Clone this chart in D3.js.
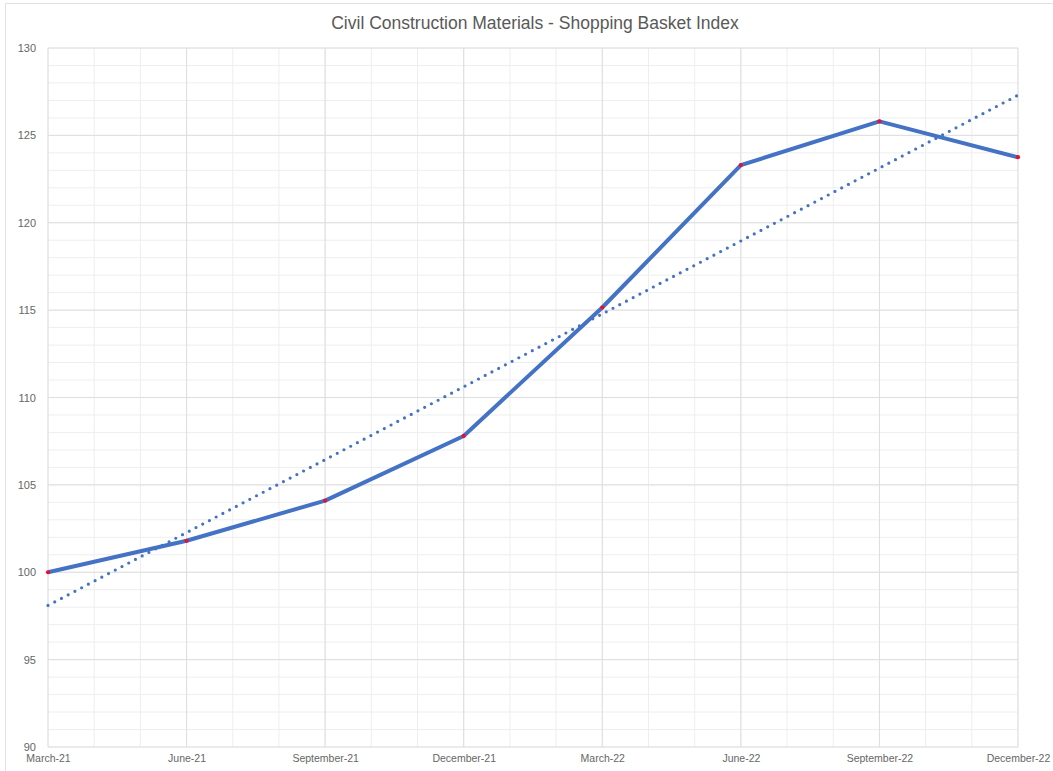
<!DOCTYPE html>
<html>
<head>
<meta charset="utf-8">
<script src="https://cdn.jsdelivr.net/npm/d3@7"></script>
<style>
  body { margin: 0; background: #fff; }
  text { font-family: "Liberation Sans", Arial, sans-serif; }
</style>
</head>
<body>
<div class="graph"></div>
<script>
const w = 1053;
const h = 771;
const margin = {top: 48, right: 35, bottom: 24, left: 48};

// data
const quarters = ["March-21", "June-21", "September-21", "December-21",
                  "March-22", "June-22", "September-22", "December-22"];
const index = [100, 101.8, 104.1, 107.8, 115.15, 123.3, 125.8, 123.75];
const trend = [98.1, 127.3];   // linear trend at first and last quarter
const yTicks = [90, 95, 100, 105, 110, 115, 120, 125, 130];

const x = d3.scaleLinear()
            .domain([0, quarters.length - 1])
            .range([margin.left, w - margin.right]);
const y = d3.scaleLinear()
            .domain([90, 130])
            .range([h - margin.bottom, margin.top]);

const canvas = d3.select(".graph")
                 .append("svg")
                 .attr("width", w)
                 .attr("height", h);

canvas.append("rect")
      .attr("x", 5.5).attr("y", 3.5)
      .attr("width", w).attr("height", h)
      .attr("fill", "none")
      .attr("stroke", "#e2e2e2");

// gridlines: monthly / one-unit minor, quarters / 5 major
const grid = canvas.append("g").attr("class", "grid");
const minorX = d3.range(0, quarters.length - 1 + 1e-9, 1 / 3);
const minorY = d3.range(90, 130.01, 1);

grid.selectAll(".mx").data(minorX).enter().append("line")
    .attr("x1", d => x(d)).attr("x2", d => x(d))
    .attr("y1", y(90)).attr("y2", y(130))
    .attr("stroke", "#eeeeee");
grid.selectAll(".my").data(minorY).enter().append("line")
    .attr("x1", x(0)).attr("x2", x(quarters.length - 1))
    .attr("y1", d => y(d)).attr("y2", d => y(d))
    .attr("stroke", "#eeeeee");
grid.selectAll(".Mx").data(d3.range(quarters.length)).enter().append("line")
    .attr("x1", d => x(d)).attr("x2", d => x(d))
    .attr("y1", y(90)).attr("y2", y(130))
    .attr("stroke", "#dedede");
grid.selectAll(".My").data(yTicks).enter().append("line")
    .attr("x1", x(0)).attr("x2", x(quarters.length - 1))
    .attr("y1", d => y(d)).attr("y2", d => y(d))
    .attr("stroke", "#dedede");

// axes
const yAxis = d3.axisLeft(y).tickValues(yTicks).tickSize(0).tickPadding(12);
canvas.append("g")
      .attr("transform", `translate(${margin.left}, 0)`)
      .call(yAxis)
      .call(g => g.select(".domain").remove())
      .selectAll("text")
      .attr("fill", "#666")
      .style("font-size", "11px");

const xAxis = d3.axisBottom(x)
                .tickValues(d3.range(quarters.length))
                .tickFormat(i => quarters[i])
                .tickSize(0).tickPadding(8);
canvas.append("g")
      .attr("transform", `translate(0, ${h - margin.bottom})`)
      .call(xAxis)
      .call(g => g.select(".domain").remove())
      .selectAll("text")
      .attr("fill", "#666")
      .style("font-size", "10.5px");

// trend line (dotted)
canvas.append("path")
      .datum(trend)
      .attr("fill", "none")
      .attr("stroke", "#4472c4")
      .attr("stroke-width", 3.2)
      .attr("stroke-linecap", "round")
      .attr("stroke-dasharray", "0 7.6")
      .attr("d", d3.line()
                   .x((d, i) => x(i * (quarters.length - 1)))
                   .y(d => y(d)));

// index line
canvas.append("path")
      .datum(index)
      .attr("fill", "none")
      .attr("stroke", "#4472c4")
      .attr("stroke-width", 4)
      .attr("stroke-linejoin", "round")
      .attr("d", d3.line()
                   .x((d, i) => x(i))
                   .y(d => y(d)));

canvas.append("g")
      .selectAll("circle")
      .data(index)
      .enter().append("circle")
      .attr("cx", (d, i) => x(i))
      .attr("cy", d => y(d))
      .attr("r", 2.1)
      .attr("fill", "#e8102a");

canvas.append("text")
      .attr("x", 535)
      .attr("y", 29)
      .attr("text-anchor", "middle")
      .attr("fill", "#595959")
      .style("font-size", "17.5px")
      .text("Civil Construction Materials - Shopping Basket Index");
</script>
</body>
</html>
